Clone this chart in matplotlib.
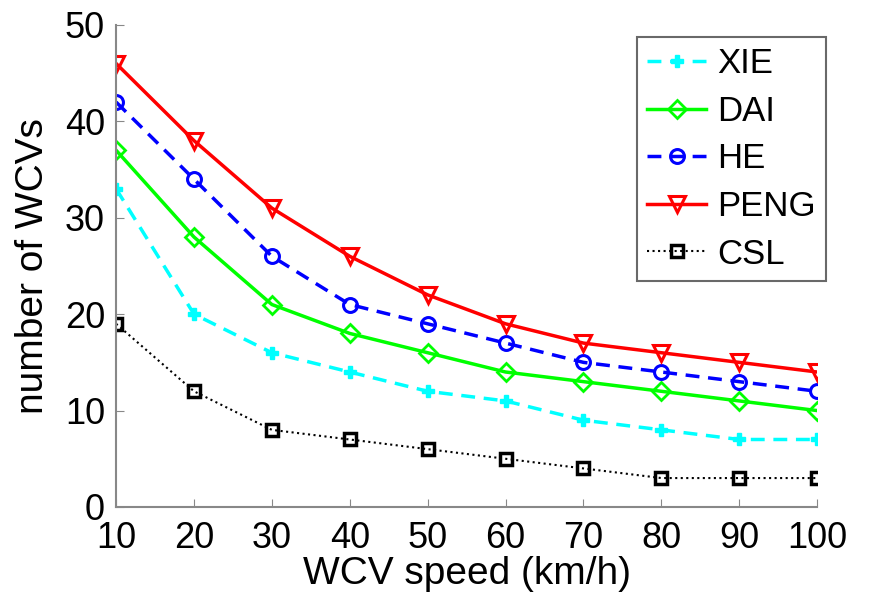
import matplotlib
matplotlib.use('Agg')
import matplotlib.pyplot as plt

speed = [10, 20, 30, 40, 50, 60, 70, 80, 90, 100]
xie = [33, 20, 16, 14, 12, 11, 9, 8, 7, 7]
dai = [37, 28, 21, 18, 16, 14, 13, 12, 11, 10]
he = [42, 34, 26, 21, 19, 17, 15, 14, 13, 12]
peng = [46, 38, 31, 26, 22, 19, 17, 16, 15, 14]
csl = [19, 12, 8, 7, 6, 5, 4, 3, 3, 3]

plt.rcParams['font.family'] = ['Liberation Sans', 'DejaVu Sans']

fig = plt.figure(figsize=(8.73, 5.94), dpi=100)
ax = fig.add_axes([0.133, 0.1465, 0.803, 0.8115])

ax.plot(speed, xie, color='#00ffff', ls=(0, (4, 2.5)), lw=2.5, marker='P', ms=8, label='XIE')
ax.plot(speed, dai, color='#00ff00', ls='-', lw=2.5, marker='D', ms=9, mfc='none', mew=2, label='DAI')
ax.plot(speed, he, color='#0000ff', ls=(0, (4, 2.5)), lw=2.5, marker='o', ms=10, mfc='none', mew=2.2, label='HE')
ax.plot(speed, peng, color='#ff0000', ls='-', lw=2.5, marker='v', ms=12, mfc='none', mew=2.2, label='PENG')
ax.plot(speed, csl, color='black', ls=':', lw=1.5, marker='s', ms=9, mfc='none', mew=2.5, label='CSL')

ax.set_xlim(10, 100)
ax.set_ylim(0, 50)
ax.set_xticks(speed)
ax.set_yticks([0, 10, 20, 30, 40, 50])
for s in ['top', 'right']:
    ax.spines[s].set_visible(False)
for s in ['left', 'bottom']:
    ax.spines[s].set_color('#888888')
    ax.spines[s].set_linewidth(1.5)
ax.tick_params(direction='in', length=6, color='#888888', labelsize=26)
ax.tick_params(axis='x', pad=10)
ax.tick_params(axis='y', pad=8)

ax.set_xlabel('WCV speed (km/h)', fontsize=28, labelpad=0)
ax.set_ylabel('number of WCVs', fontsize=28, labelpad=10)

leg = ax.legend(loc='upper right', bbox_to_anchor=(0.946, 0.938), bbox_transform=fig.transFigure,
                fontsize=25, frameon=True, fancybox=False, edgecolor='#444444',
                handlelength=1.7, handletextpad=0.3, labelspacing=0.42, borderpad=0.3,
                borderaxespad=0)
leg.get_frame().set_linewidth(1.5)

fig.savefig('out.png', dpi=100)
